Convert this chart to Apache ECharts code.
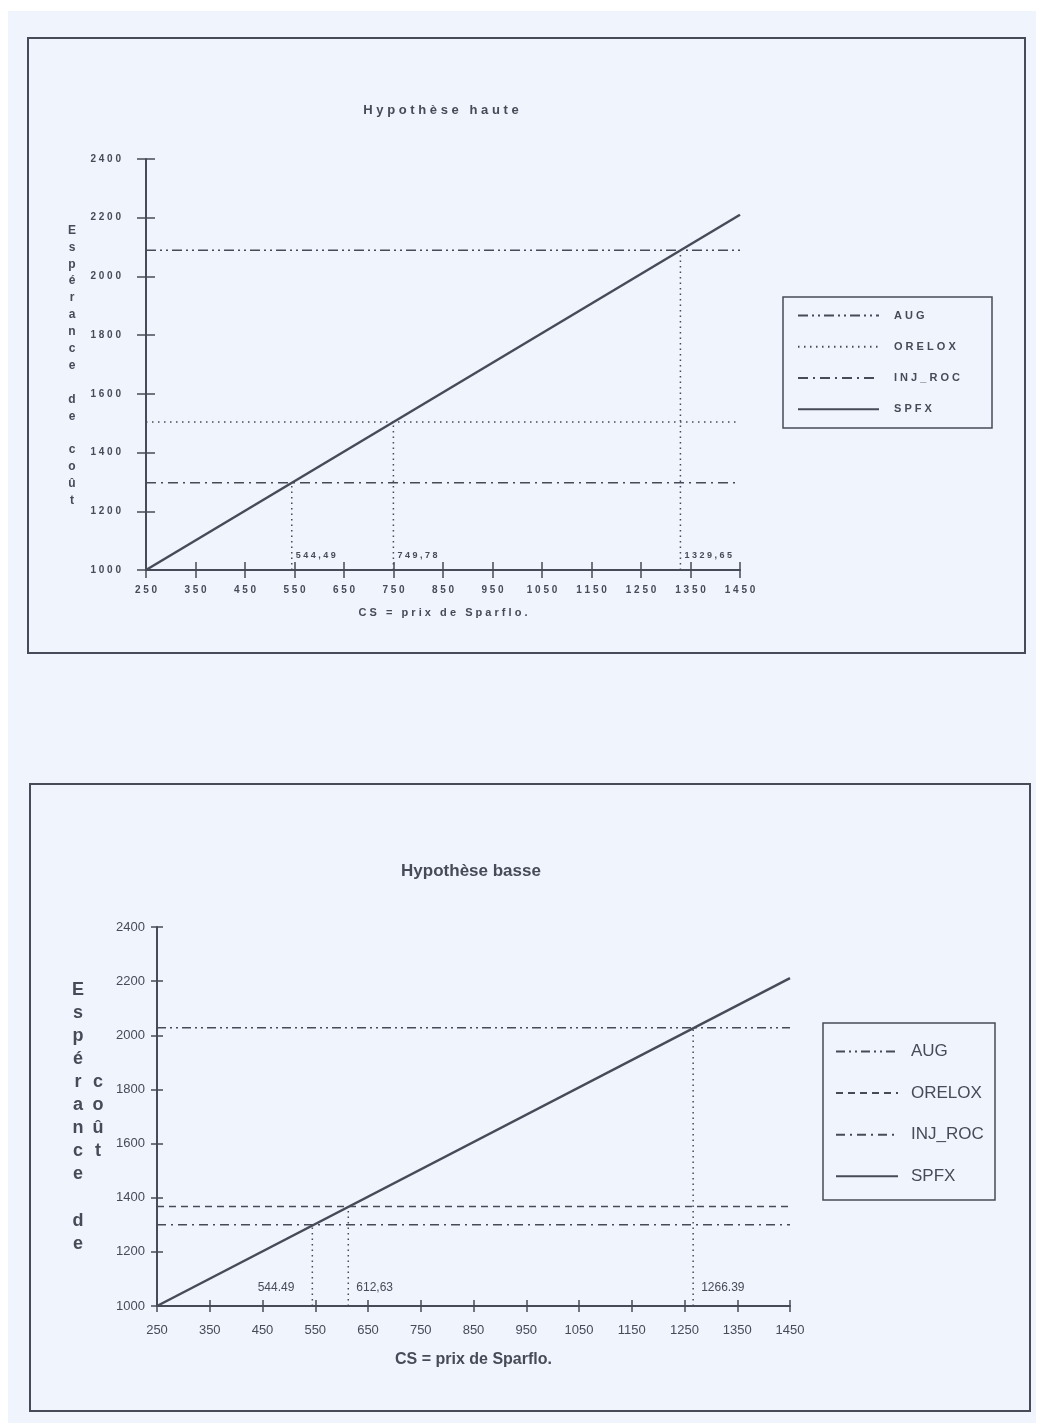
<!DOCTYPE html>
<html>
<head>
<meta charset="utf-8">
<script src="https://cdn.jsdelivr.net/npm/echarts@6/dist/echarts.min.js"></script>
<style>
html,body{margin:0;padding:0;background:#ffffff;}
#chart{width:1043px;height:1428px;}
</style>
</head>
<body>
<div id="chart"></div>
<script>
// ---------- data ----------
const xTickLabels = ['250','350','450','550','650','750','850','950','1050','1150','1250','1350','1450'];
const seriesNames = ['AUG','ORELOX','INJ_ROC','SPFX'];

// Hypothèse haute
const highLevelValues = [2089, 1504, 1297];          // AUG, ORELOX, INJ_ROC
const highSpfxX = [250, 1450];
const highSpfxY = [1000, 2210];
const highCrossX = [544.49, 749.78, 1329.65];
const highCrossY = [1297, 1504, 2089];
const highCrossLabels = ['544,49', '749,78', '1329,65'];

// Hypothèse basse
const lowLevelValues = [2028, 1368, 1300];            // AUG, ORELOX, INJ_ROC
const lowSpfxX = [250, 1450];
const lowSpfxY = [1000, 2211];
const lowCrossX = [544.49, 612.63, 1266.39];
const lowCrossY = [1297, 1368, 2028];
const lowCrossLabels = ['544.49', '612,63', '1266.39'];

// ---------- style ----------
const INK = '#474b57';
const BG = '#eff4fd';
const F = '"Liberation Sans", Arial, sans-serif';
const sp = s => s.split('').join(' ');
const X0 = 250, X1 = 1450;

const highDash = [[10,4,2,4,2,4], [1.5,4.5], [10,5,2,5]];
const lowDash  = [[9,4,2,4,2,4], [7,5], [9,5,2,5]];

function hLine(name, y, dash, xi, yi) {
  return { type:'line', name, xAxisIndex:xi, yAxisIndex:yi, silent:true, color:INK,
    data:[[X0,y],[X1,y]], symbol:'none', itemStyle:{color:INK},
    lineStyle:{color:INK, width:1.5, type:dash} };
}
function spfx(name, xs, ys, xi, yi) {
  return { type:'line', name, xAxisIndex:xi, yAxisIndex:yi, silent:true, color:INK,
    data: xs.map((x,i)=>[x, ys[i]]), symbol:'none', itemStyle:{color:INK},
    lineStyle:{color:INK, width:2.5, type:'solid'} };
}
function guide(x, y, text, xi, yi, lab) {
  return { type:'line', xAxisIndex:xi, yAxisIndex:yi, silent:true,
    symbol:'circle', symbolSize:0, showSymbol:true,
    itemStyle:{color:INK},
    lineStyle:{color:INK, width:1.5, type:[1.5,4]},
    data:[ {value:[x,1000], label:Object.assign({show:true, formatter:()=>text}, lab)}, [x,y] ] };
}

const highLab = {position:'right', distance:4, offset:[0,-14], fontFamily:F, fontSize:9, fontWeight:'bold', color:INK};
const lowLabR = {position:'right', distance:8, offset:[0,-18], fontFamily:F, fontSize:12, color:INK};
const lowLabL = {position:'left', distance:18, offset:[0,-18], fontFamily:F, fontSize:12, color:INK};

const series = [];
// top chart
seriesNames.slice(0,3).forEach((n,i)=>series.push(hLine(n, highLevelValues[i], highDash[i], 0, 0)));
series.push(spfx('SPFX', highSpfxX, highSpfxY, 0, 0));
highCrossX.forEach((x,i)=>series.push(guide(x, highCrossY[i], sp(highCrossLabels[i]), 0, 0, highLab)));
// bottom chart
const lowNames = seriesNames.map(n => n + '\u200b');
lowNames.slice(0,3).forEach((n,i)=>series.push(hLine(n, lowLevelValues[i], lowDash[i], 3, 2)));
series.push(spfx(lowNames[3], lowSpfxX, lowSpfxY, 3, 2));
lowCrossX.forEach((x,i)=>series.push(guide(x, lowCrossY[i], lowCrossLabels[i], 3, 2, i===0?lowLabL:lowLabR)));

const axisLine = {show:true, lineStyle:{color:INK, width:2}};

const option = {
  backgroundColor:'#ffffff',
  animation:false,
  color:[INK],
  graphic:[
    {type:'rect', z:-100, shape:{x:8,y:11,width:1028,height:1412}, style:{fill:BG}},
    {type:'rect', z:-90, shape:{x:28,y:38,width:997,height:615}, style:{fill:'none', stroke:INK, lineWidth:2}},
    {type:'rect', z:-90, shape:{x:30,y:784,width:1000,height:627}, style:{fill:'none', stroke:INK, lineWidth:2}},
    {type:'rect', z:-90, shape:{x:783,y:297,width:209,height:131}, style:{fill:'none', stroke:INK, lineWidth:1.5}},
    {type:'rect', z:-90, shape:{x:823,y:1023,width:172,height:177}, style:{fill:'none', stroke:INK, lineWidth:1.5}},
    {type:'text', style:{text:'H y p o t h è s e   h a u t e', x:441, y:110, align:'center', verticalAlign:'middle', font:'bold 13px '+F, fill:INK}},
    {type:'text', style:{text:'Hypothèse basse', x:471, y:871, align:'center', verticalAlign:'middle', font:'bold 17px '+F, fill:INK}},
    {type:'text', style:{text:'E\ns\np\né\nr\na\nn\nc\ne\n \nd\ne\n \nc\no\nû\nt', x:72, y:222, align:'center', verticalAlign:'top', font:'bold 12px '+F, lineHeight:16.9, fill:INK}},
    {type:'text', style:{text:'E\ns\np\né\nr\na\nn\nc\ne\n \nd\ne', x:78, y:978, align:'center', verticalAlign:'top', font:'bold 18px '+F, lineHeight:23.1, fill:INK}},
    {type:'text', style:{text:'c\no\nû\nt', x:98, y:1070, align:'center', verticalAlign:'top', font:'bold 18px '+F, lineHeight:23.1, fill:INK}}
  ],
  legend:[
    { data: seriesNames, orient:'vertical', left:797, top:310, padding:0,
      itemWidth:81, itemHeight:14, itemGap:20, selectedMode:false,
      itemStyle:{opacity:0},
      formatter: n => sp(n),
      textStyle:{fontFamily:F, fontSize:11, fontWeight:'bold', color:INK, padding:[0,0,0,10]} },
    { data: lowNames, orient:'vertical', left:835, top:1043, padding:0,
      itemWidth:62, itemHeight:16, itemGap:24.6, selectedMode:false,
      itemStyle:{opacity:0},
      formatter: n => n.replace('\u200b',''),
      textStyle:{fontFamily:F, fontSize:17, color:INK, padding:[0,0,0,8]} }
  ],
  grid:[
    {left:146, top:159, width:594, height:411},
    {left:157, top:927, width:633, height:379}
  ],
  xAxis:[
    {gridIndex:0, type:'value', min:X0, max:X1, show:false},
    {gridIndex:0, type:'category', data:xTickLabels, boundaryGap:false, position:'bottom',
      axisLine, axisTick:{show:true, length:8, interval:0, lineStyle:{color:INK, width:1.5}},
      axisLabel:{interval:0, margin:15, fontFamily:F, fontSize:10, fontWeight:'bold', color:INK, formatter:v=>sp(v)},
      name: sp('CS = prix de Sparflo.'), nameLocation:'middle', nameGap:37,
      nameTextStyle:{fontFamily:F, fontSize:11, fontWeight:'bold', color:INK}},
    {gridIndex:0, type:'category', data:xTickLabels, boundaryGap:false, position:'bottom',
      axisLine:{show:false}, axisTick:{show:true, inside:true, length:8, interval:0, lineStyle:{color:INK, width:1.5}},
      axisLabel:{show:false}},
    {gridIndex:1, type:'value', min:X0, max:X1, show:false},
    {gridIndex:1, type:'category', data:xTickLabels, boundaryGap:false, position:'bottom',
      axisLine, axisTick:{show:true, length:6, interval:0, lineStyle:{color:INK, width:1.5}},
      axisLabel:{interval:0, margin:18, fontFamily:F, fontSize:13, color:INK},
      name:'CS = prix de Sparflo.', nameLocation:'middle', nameGap:46,
      nameTextStyle:{fontFamily:F, fontSize:16, fontWeight:'bold', color:INK}},
    {gridIndex:1, type:'category', data:xTickLabels, boundaryGap:false, position:'bottom',
      axisLine:{show:false}, axisTick:{show:true, inside:true, length:6, interval:0, lineStyle:{color:INK, width:1.5}},
      axisLabel:{show:false}}
  ],
  yAxis:[
    {gridIndex:0, type:'value', min:1000, max:2400, interval:200, position:'left',
      axisLine, axisTick:{show:true, length:9, lineStyle:{color:INK, width:1.5}}, splitLine:{show:false},
      axisLabel:{margin:25, fontFamily:F, fontSize:10, fontWeight:'bold', color:INK, formatter:v=>sp(String(v))}},
    {gridIndex:0, type:'value', min:1000, max:2400, interval:200, position:'left',
      axisLine:{show:false}, axisTick:{show:true, inside:true, length:9, lineStyle:{color:INK, width:1.5}},
      splitLine:{show:false}, axisLabel:{show:false}},
    {gridIndex:1, type:'value', min:1000, max:2400, interval:200, position:'left',
      axisLine, axisTick:{show:true, length:6, lineStyle:{color:INK, width:1.5}}, splitLine:{show:false},
      axisLabel:{margin:12, fontFamily:F, fontSize:13, color:INK, formatter:v=>String(v)}},
    {gridIndex:1, type:'value', min:1000, max:2400, interval:200, position:'left',
      axisLine:{show:false}, axisTick:{show:true, inside:true, length:6, lineStyle:{color:INK, width:1.5}},
      splitLine:{show:false}, axisLabel:{show:false}}
  ],
  series
};
const chart = echarts.init(document.getElementById('chart'), null, {renderer:'canvas'});
chart.setOption(option);
</script>
</body>
</html>
